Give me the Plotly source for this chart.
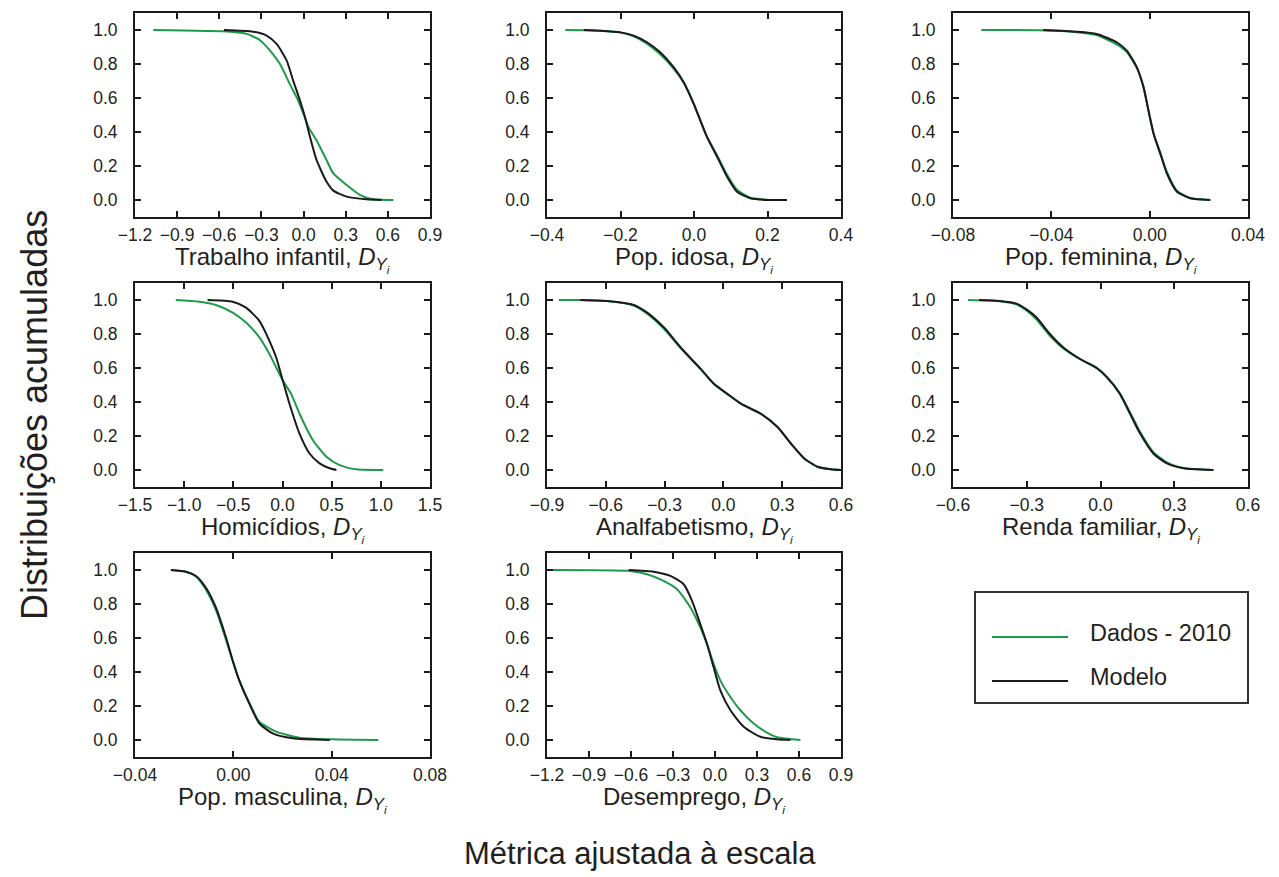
import plotly.graph_objects as go

# ---- Data: complementary cumulative distributions (dados vs modelo) ----
TRAB_DATA_X = [-1.07, -0.52, -0.405, -0.31, -0.24, -0.168, -0.097, -0.05, -0.002, 0.034, 0.093, 0.164, 0.212, 0.307, 0.40, 0.497, 0.64]
TRAB_DATA_Y = [1.0, 0.99, 0.977, 0.94, 0.88, 0.80, 0.68, 0.605, 0.51, 0.43, 0.35, 0.234, 0.156, 0.088, 0.03, 0.004, 0.0]
TRAB_MOD_X = [-0.567, -0.358, -0.263, -0.192, -0.12, -0.073, -0.026, 0.01, 0.046, 0.093, 0.164, 0.212, 0.307, 0.449, 0.556]
TRAB_MOD_Y = [1.0, 0.99, 0.967, 0.918, 0.82, 0.70, 0.586, 0.488, 0.371, 0.234, 0.107, 0.055, 0.02, 0.004, 0.0]

IDOSA_DATA_X = [-0.35, -0.30, -0.255, -0.2, -0.164, -0.128, -0.092, -0.055, -0.028, 0.0, 0.017, 0.035, 0.063, 0.09, 0.117, 0.153, 0.199, 0.22]
IDOSA_DATA_Y = [1.0, 0.999, 0.995, 0.985, 0.963, 0.92, 0.857, 0.772, 0.69, 0.565, 0.47, 0.375, 0.262, 0.148, 0.06, 0.014, 0.002, 0.0]
IDOSA_MOD_X = [-0.30, -0.255, -0.2, -0.164, -0.128, -0.092, -0.055, -0.028, -0.001, 0.017, 0.035, 0.063, 0.09, 0.117, 0.153, 0.199, 0.253]
IDOSA_MOD_Y = [1.0, 0.996, 0.986, 0.967, 0.928, 0.869, 0.78, 0.693, 0.566, 0.469, 0.371, 0.254, 0.137, 0.049, 0.01, 0.0, 0.0]

FEM_DATA_X = [-0.0685, -0.045, -0.0297, -0.0216, -0.0134, -0.0093, -0.0052, -0.0025, -0.0005, 0.0016, 0.0043, 0.007, 0.0111, 0.0165, 0.024]
FEM_DATA_Y = [1.0, 0.998, 0.987, 0.97, 0.915, 0.87, 0.776, 0.664, 0.527, 0.39, 0.28, 0.165, 0.055, 0.012, 0.0]
FEM_MOD_X = [-0.0433, -0.0297, -0.0216, -0.0134, -0.0093, -0.0052, -0.0025, -0.0005, 0.0016, 0.0043, 0.007, 0.0111, 0.0165, 0.0247]
FEM_MOD_Y = [1.0, 0.99, 0.977, 0.928, 0.879, 0.78, 0.664, 0.527, 0.39, 0.273, 0.156, 0.049, 0.01, 0.0]

HOM_DATA_X = [-1.085, -0.847, -0.677, -0.507, -0.371, -0.235, -0.133, -0.065, 0.003, 0.088, 0.173, 0.31, 0.446, 0.581, 0.752, 1.024]
HOM_DATA_Y = [1.0, 0.99, 0.971, 0.926, 0.867, 0.78, 0.682, 0.604, 0.526, 0.448, 0.331, 0.175, 0.078, 0.029, 0.004, 0.0]
HOM_MOD_X = [-0.762, -0.507, -0.371, -0.235, -0.133, -0.065, 0.003, 0.071, 0.173, 0.275, 0.377, 0.479, 0.548]
HOM_MOD_Y = [1.0, 0.99, 0.955, 0.877, 0.76, 0.663, 0.526, 0.39, 0.214, 0.097, 0.039, 0.01, 0.0]

ANALF_DATA_X = [-0.84, -0.73, -0.593, -0.457, -0.389, -0.303, -0.218, -0.116, -0.048, 0.020, 0.089, 0.191, 0.276, 0.344, 0.413, 0.481, 0.549, 0.6]
ANALF_DATA_Y = [1.0, 1.0, 0.994, 0.968, 0.92, 0.83, 0.716, 0.593, 0.505, 0.447, 0.39, 0.33, 0.253, 0.156, 0.066, 0.018, 0.004, 0.0]
ANALF_MOD_X = [-0.73, -0.593, -0.457, -0.389, -0.303, -0.218, -0.116, -0.048, 0.020, 0.089, 0.191, 0.276, 0.344, 0.413, 0.481, 0.549, 0.6]
ANALF_MOD_Y = [1.0, 0.994, 0.971, 0.926, 0.838, 0.721, 0.595, 0.507, 0.448, 0.39, 0.331, 0.253, 0.156, 0.068, 0.019, 0.004, 0.0]

RENDA_DATA_X = [-0.539, -0.41, -0.342, -0.301, -0.26, -0.206, -0.151, -0.083, -0.016, 0.025, 0.079, 0.12, 0.161, 0.215, 0.27, 0.338, 0.45]
RENDA_DATA_Y = [1.0, 0.993, 0.975, 0.938, 0.885, 0.79, 0.715, 0.652, 0.602, 0.55, 0.45, 0.34, 0.225, 0.105, 0.045, 0.012, 0.0]
RENDA_MOD_X = [-0.494, -0.41, -0.342, -0.301, -0.26, -0.206, -0.151, -0.083, -0.016, 0.025, 0.079, 0.12, 0.161, 0.215, 0.27, 0.338, 0.46]
RENDA_MOD_Y = [1.0, 0.994, 0.979, 0.945, 0.897, 0.80, 0.721, 0.653, 0.60, 0.546, 0.448, 0.331, 0.214, 0.097, 0.039, 0.01, 0.0]

MASC_DATA_X = [-0.0254, -0.0193, -0.0152, -0.0112, -0.0071, -0.003, -0.00027, 0.0024, 0.0065, 0.0106, 0.0174, 0.0269, 0.0405, 0.059]
MASC_DATA_Y = [1.0, 0.99, 0.962, 0.885, 0.765, 0.59, 0.465, 0.352, 0.22, 0.107, 0.049, 0.014, 0.004, 0.0]
MASC_MOD_X = [-0.0254, -0.0193, -0.0152, -0.0112, -0.0071, -0.003, -0.00027, 0.0024, 0.0065, 0.0106, 0.016, 0.0242, 0.0392]
MASC_MOD_Y = [1.0, 0.99, 0.965, 0.897, 0.78, 0.604, 0.468, 0.351, 0.214, 0.097, 0.039, 0.01, 0.0]

DESEMP_DATA_X = [-1.19, -0.605, -0.486, -0.367, -0.271, -0.176, -0.105, -0.057, -0.01, 0.038, 0.11, 0.181, 0.276, 0.371, 0.443, 0.61]
DESEMP_DATA_Y = [1.0, 0.994, 0.975, 0.936, 0.887, 0.78, 0.663, 0.565, 0.448, 0.351, 0.253, 0.175, 0.097, 0.043, 0.016, 0.0]
DESEMP_MOD_X = [-0.617, -0.438, -0.319, -0.224, -0.164, -0.105, -0.057, -0.01, 0.038, 0.11, 0.205, 0.324, 0.443, 0.538]
DESEMP_MOD_Y = [1.0, 0.99, 0.965, 0.916, 0.819, 0.682, 0.565, 0.429, 0.292, 0.175, 0.078, 0.019, 0.004, 0.0]

# ---- Panel titles and tick values ----
TITLES = ["Trabalho infantil,", "Pop. idosa,", "Pop. feminina,",
          "Homicídios,", "Analfabetismo,", "Renda familiar,",
          "Pop. masculina,", "Desemprego,"]
TICKS_X = [
    [-1.2, -0.9, -0.6, -0.3, 0.0, 0.3, 0.6, 0.9],
    [-0.4, -0.2, 0.0, 0.2, 0.4],
    [-0.08, -0.04, 0.0, 0.04],
    [-1.5, -1.0, -0.5, 0.0, 0.5, 1.0, 1.5],
    [-0.9, -0.6, -0.3, 0.0, 0.3, 0.6],
    [-0.6, -0.3, 0.0, 0.3, 0.6],
    [-0.04, 0.0, 0.04, 0.08],
    [-1.2, -0.9, -0.6, -0.3, 0.0, 0.3, 0.6, 0.9],
]
TICK_DECIMALS = [1, 1, 2, 1, 1, 1, 2, 1]
TICKS_Y = [0.0, 0.2, 0.4, 0.6, 0.8, 1.0]

PANELS = [
    (TRAB_DATA_X, TRAB_DATA_Y, TRAB_MOD_X, TRAB_MOD_Y),
    (IDOSA_DATA_X, IDOSA_DATA_Y, IDOSA_MOD_X, IDOSA_MOD_Y),
    (FEM_DATA_X, FEM_DATA_Y, FEM_MOD_X, FEM_MOD_Y),
    (HOM_DATA_X, HOM_DATA_Y, HOM_MOD_X, HOM_MOD_Y),
    (ANALF_DATA_X, ANALF_DATA_Y, ANALF_MOD_X, ANALF_MOD_Y),
    (RENDA_DATA_X, RENDA_DATA_Y, RENDA_MOD_X, RENDA_MOD_Y),
    (MASC_DATA_X, MASC_DATA_Y, MASC_MOD_X, MASC_MOD_Y),
    (DESEMP_DATA_X, DESEMP_DATA_Y, DESEMP_MOD_X, DESEMP_MOD_Y),
]

SERIES_NAMES = ["Dados - 2010", "Modelo"]
GREEN = "#1e9a4b"
BLACK = "#1a1a1a"
TEXT = "#231f20"
FONT = "Liberation Sans, Arial, Helvetica, sans-serif"

W, H = 1279, 877
COL_PX = [(135, 430), (547, 841), (953, 1248)]
ROW_PX = [(13, 217), (283, 487), (553, 757)]


def tick_label(v, decimals):
    """Format a tick with a typographic minus sign."""
    s = f"{abs(v):.{decimals}f}"
    return ("\u2212" + s) if v < 0 else s


fig = go.Figure()
layout = dict(
    width=W, height=H,
    margin=dict(l=0, r=0, t=0, b=0, autoexpand=False),
    paper_bgcolor="white", plot_bgcolor="white",
    showlegend=False,
    font=dict(family=FONT, color=TEXT),
)
annotations = []
shapes = []

for i, (dx, dy, mx, my) in enumerate(PANELS):
    r, c = divmod(i, 3)
    n = i + 1
    xa = "x" if n == 1 else f"x{n}"
    ya = "y" if n == 1 else f"y{n}"
    x0, x1 = COL_PX[c]
    y0, y1 = ROW_PX[r]
    fig.add_trace(go.Scatter(x=dx, y=dy, mode="lines", name=SERIES_NAMES[0],
                             line=dict(color=GREEN, width=2, shape="spline", smoothing=0.6),
                             xaxis=xa, yaxis=ya))
    fig.add_trace(go.Scatter(x=mx, y=my, mode="lines", name=SERIES_NAMES[1],
                             line=dict(color=BLACK, width=2, shape="spline", smoothing=0.6),
                             xaxis=xa, yaxis=ya))
    ticks = TICKS_X[i]
    axis_common = dict(showline=True, linecolor=BLACK, linewidth=2, mirror="allticks",
                       ticks="inside", ticklen=6, tickwidth=1.5, tickcolor=BLACK,
                       showgrid=False, zeroline=False, automargin=False,
                       tickfont=dict(size=17.5, family=FONT, color=TEXT))
    layout[f"xaxis{'' if n == 1 else n}"] = dict(
        domain=[x0 / W, x1 / W], anchor=ya, range=[ticks[0], ticks[-1]],
        tickvals=ticks, ticktext=[tick_label(v, TICK_DECIMALS[i]) for v in ticks],
        ticklabelstandoff=1, **axis_common)
    layout[f"yaxis{'' if n == 1 else n}"] = dict(
        domain=[1 - y1 / H, 1 - y0 / H], anchor=xa, range=[-0.1, 1.1],
        tickvals=TICKS_Y, ticktext=[tick_label(v, 1) for v in TICKS_Y],
        ticklabelstandoff=12, **axis_common)
    annotations.append(dict(
        text=f"{TITLES[i]} <i>D<sub>Y<sub>i</sub></sub></i>",
        x=(x0 + x1) / 2 / W, y=1 - (y1 + 24) / H, xref="paper", yref="paper",
        xanchor="center", yanchor="top", showarrow=False,
        font=dict(size=24, family=FONT, color=TEXT)))

# Overall axis titles
annotations.append(dict(text="Distribuições acumuladas", x=35 / W, y=1 - 415 / H,
                        xref="paper", yref="paper", textangle=-90, showarrow=False,
                        xanchor="center", yanchor="middle",
                        font=dict(size=36, family=FONT, color=TEXT)))
annotations.append(dict(text="Métrica ajustada à escala", x=640 / W, y=1 - 853 / H,
                        xref="paper", yref="paper", showarrow=False,
                        xanchor="center", yanchor="middle",
                        font=dict(size=31, family=FONT, color=TEXT)))

# Legend box in the empty ninth cell
shapes.append(dict(type="rect", xref="paper", yref="paper",
                   x0=975 / W, x1=1248 / W, y0=1 - 703 / H, y1=1 - 592 / H,
                   line=dict(color="#333333", width=2), fillcolor="rgba(0,0,0,0)"))
for k, (name, color, ypx) in enumerate([(SERIES_NAMES[0], GREEN, 637), (SERIES_NAMES[1], BLACK, 681)]):
    shapes.append(dict(type="line", xref="paper", yref="paper",
                       x0=992 / W, x1=1068 / W, y0=1 - ypx / H, y1=1 - ypx / H,
                       line=dict(color=color, width=2)))
    annotations.append(dict(text=name, x=1088 / W, y=1 - (ypx - 4) / H, xref="paper", yref="paper",
                            xanchor="left", yanchor="middle", showarrow=False,
                            font=dict(size=23.5, family=FONT, color=TEXT)))

layout["annotations"] = annotations
layout["shapes"] = shapes
fig.update_layout(**layout)
fig.write_html("out.html")
